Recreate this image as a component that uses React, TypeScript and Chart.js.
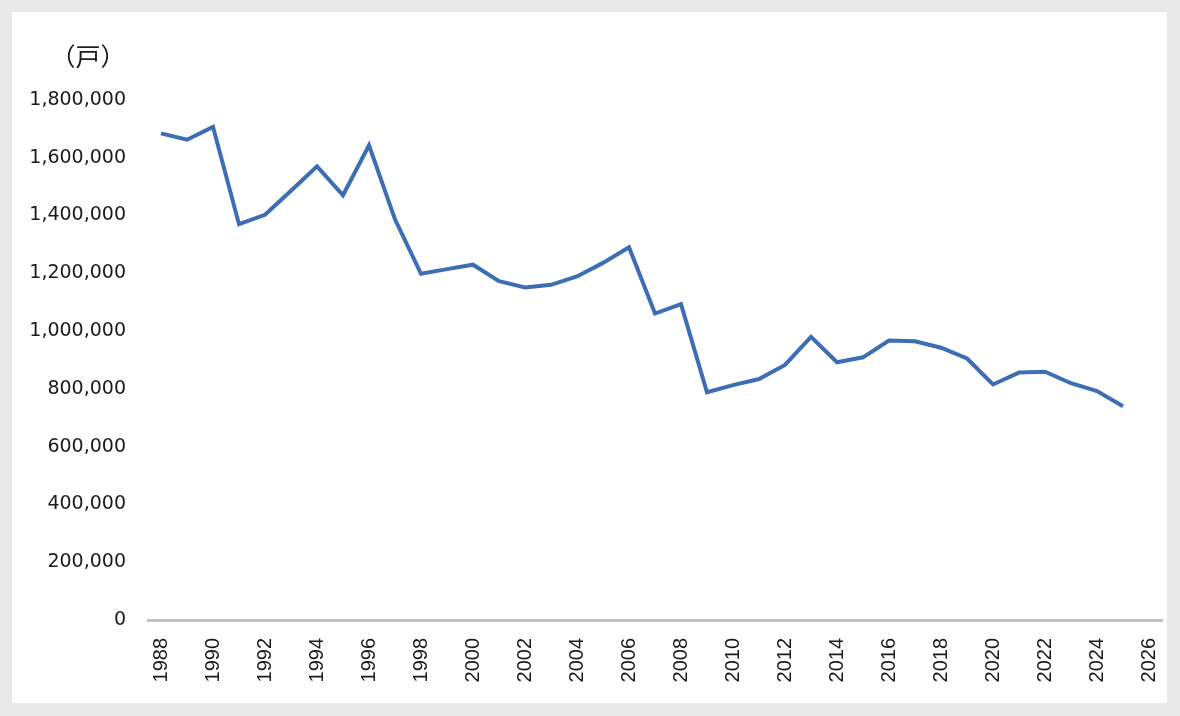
import React, { useEffect, useRef } from "react";
import { Chart, registerables } from "chart.js";

Chart.register(...registerables);

const years: string[] = [
  "1988", "1989", "1990", "1991", "1992", "1993", "1994", "1995", "1996", "1997",
  "1998", "1999", "2000", "2001", "2002", "2003", "2004", "2005", "2006", "2007",
  "2008", "2009", "2010", "2011", "2012", "2013", "2014", "2015", "2016", "2017",
  "2018", "2019", "2020", "2021", "2022", "2023", "2024", "2025", "2026",
];

const housingStarts: (number | null)[] = [
  1684644, 1662612, 1707109, 1370126, 1402590, 1485684, 1570252, 1470330, 1643266, 1387014,
  1198295, 1214601, 1229843, 1173170, 1151016, 1160083, 1189049, 1236175, 1290391, 1060741,
  1093519, 788410, 813126, 834117, 882797, 980025, 892261, 909299, 967237, 964641,
  942370, 905123, 815340, 856484, 859529, 819623, 792195, 740000, null,
];

const yTicksMin = 0;
const yTicksMax = 1800000;
const yTickStep = 200000;
const unitLabel = "（戸）";

export default function App() {
  const canvasRef = useRef<HTMLCanvasElement | null>(null);

  useEffect(() => {
    document.body.style.margin = "0";
    const canvas = canvasRef.current;
    if (!canvas) return;
    const chart = new Chart(canvas, {
      type: "line",
      data: {
        labels: years,
        datasets: [
          {
            data: housingStarts,
            borderColor: "#3d6db4",
            backgroundColor: "#3d6db4",
            borderWidth: 4,
            pointRadius: 0,
            pointHoverRadius: 0,
            tension: 0,
            fill: false,
            spanGaps: false,
          },
        ],
      },
      options: {
        animation: false,
        responsive: true,
        maintainAspectRatio: false,
        layout: { padding: { top: 88, right: 5, left: 0, bottom: 0 } },
        plugins: {
          legend: { display: false },
          tooltip: { enabled: false },
        },
        scales: {
          x: {
            type: "category",
            offset: true,
            grid: { display: false, drawTicks: false },
            border: { display: true, color: "#bfbfbf", width: 3 },
            afterFit: (scale: any) => {
              scale.height = 83;
              scale.paddingLeft = 0;
              scale.paddingRight = 0;
            },
            ticks: {
              autoSkip: false,
              minRotation: 90,
              maxRotation: 90,
              padding: 18,
              color: "#1a1a1a",
              font: { family: "'Liberation Sans', Arial, sans-serif", size: 20 },
              callback: (_v: any, idx: number) => (idx % 2 === 0 ? years[idx] : ""),
            },
          },
          y: {
            min: yTicksMin,
            max: yTicksMax,
            grid: { display: false, drawTicks: false },
            border: { display: false },
            afterFit: (scale: any) => {
              scale.width = 136;
              scale.paddingTop = 0;
              scale.paddingBottom = 0;
            },
            ticks: {
              stepSize: yTickStep,
              padding: 22,
              color: "#1a1a1a",
              font: { family: "'DejaVu Sans', sans-serif", size: 19 },
              callback: (v: any) => Number(v).toLocaleString("en-US"),
            },
          },
        },
      },
    });
    return () => chart.destroy();
  }, []);

  return (
    <div style={{ width: 1180, height: 716, background: "#e9e9e9", position: "relative", overflow: "hidden" }}>
      <div style={{ position: "absolute", left: 12, top: 12, width: 1155, height: 691, background: "#ffffff" }}>
        <canvas ref={canvasRef} />
        <span
          style={{
            position: "absolute",
            left: 76,
            top: 43,
            transform: "translate(-50%, -50%)",
            fontFamily: "'Noto Sans CJK JP', sans-serif",
            fontSize: 25,
            color: "#1a1a1a",
            whiteSpace: "nowrap",
            lineHeight: 1,
          }}
        >
          {unitLabel}
        </span>
      </div>
    </div>
  );
}
